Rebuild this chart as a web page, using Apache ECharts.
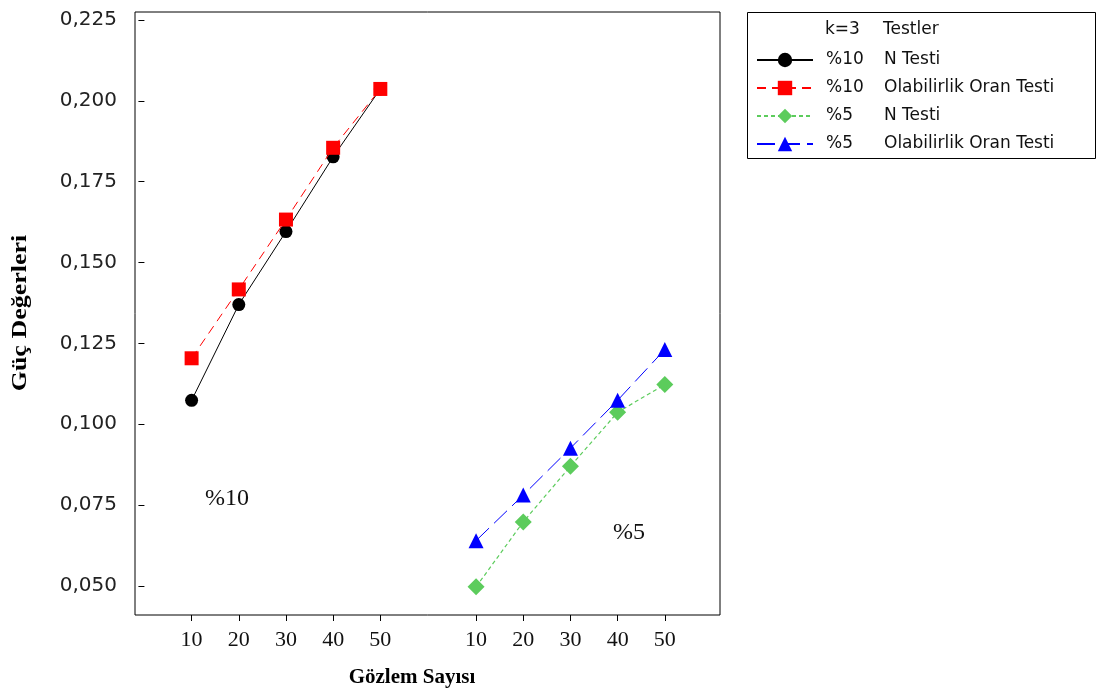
<!DOCTYPE html>
<html>
<head>
<meta charset="utf-8">
<script src="https://cdn.jsdelivr.net/npm/echarts@6/dist/echarts.min.js"></script>
<style>html,body{margin:0;padding:0;background:#fff}#c{width:1101px;height:694px}</style>
</head>
<body>
<div id="c"></div>
<script>
const categories = ['10', '20', '30', '40', '50'];
const yTicks = [0.050, 0.075, 0.100, 0.125, 0.150, 0.175, 0.200, 0.225];
const n10 = [0.1074, 0.1370, 0.1596, 0.1827, 0.2037];
const lr10 = [0.1204, 0.1417, 0.1633, 0.1855, 0.2037];
const n5 = [0.0497, 0.0698, 0.0870, 0.1037, 0.1123];
const lr5 = [0.0640, 0.0781, 0.0926, 0.1074, 0.1231];

// group offsets on the shared x scale
const g1 = categories.map((c, i) => i + 1);
const g2 = categories.map((c, i) => i + 7.03);
const xPos = g1.concat(g2);
const xLabelMap = {};
g1.forEach((p, i) => xLabelMap[p] = categories[i]);
g2.forEach((p, i) => xLabelMap[p] = categories[i]);

const pair = (xs, ys) => xs.map((x, i) => [x, ys[i]]);

const chart = echarts.init(document.getElementById('c'), null, {renderer: 'canvas'});
const sans = 'DejaVu Sans';
const rich = {
  s: {width: 8, fontFamily: sans, fontSize: 17, lineHeight: 18},
  a: {width: 58, fontFamily: sans, fontSize: 17, color: '#111', lineHeight: 18},
  b: {fontFamily: sans, fontSize: 17, color: '#111', lineHeight: 18}
};
chart.setOption({
  animation: false,
  grid: {left: 135, top: 12, right: 381, bottom: 79, show: true, borderColor: '#000', borderWidth: 1, backgroundColor: '#fff'},
  xAxis: {
    type: 'value', min: -0.2, max: 12.2,
    axisLine: {show: false},
    splitLine: {show: false},
    axisTick: {show: true, length: 6, customValues: xPos, lineStyle: {color: '#000'}},
    axisLabel: {customValues: xPos, formatter: v => xLabelMap[v] || '', fontFamily: 'Liberation Serif', fontSize: 22, color: '#111', margin: 14}
  },
  yAxis: {
    type: 'value', min: 0.041, max: 0.2275,
    axisLine: {show: false},
    splitLine: {show: false},
    axisTick: {show: true, length: 6, customValues: yTicks, lineStyle: {color: '#000'}},
    axisLabel: {customValues: yTicks, formatter: v => v.toFixed(3).replace('.', ','), fontFamily: sans, fontSize: 20, color: '#222', margin: 18}
  },
  legend: {
    orient: 'vertical', left: 751, top: 46, itemGap: 10, itemWidth: 56, itemHeight: 18,
    selectedMode: false,
    data: ['n10', 'lr10', 'n5', 'lr5'],
    formatter: name => ({
      n10: '{s|}{a|%10}{b|N Testi}',
      lr10: '{s|}{a|%10}{b|Olabilirlik Oran Testi}',
      n5: '{s|}{a|%5}{b|N Testi}',
      lr5: '{s|}{a|%5}{b|Olabilirlik Oran Testi}'
    })[name],
    textStyle: {rich: rich, lineHeight: 18}
  },
  graphic: [
    {type: 'rect', shape: {x: 747.5, y: 12.5, width: 348, height: 146}, style: {fill: 'none', stroke: '#000', lineWidth: 1}, z: 0},
    {type: 'text', x: 825, y: 30, style: {text: 'k=3', font: '17px DejaVu Sans', fill: '#111', verticalAlign: 'middle'}},
    {type: 'text', x: 883, y: 30, style: {text: 'Testler', font: '17px DejaVu Sans', fill: '#111', verticalAlign: 'middle'}},
    {type: 'text', x: 205, y: 499, style: {text: '%10', font: '24px Liberation Serif', fill: '#111', verticalAlign: 'middle'}},
    {type: 'text', x: 613, y: 533, style: {text: '%5', font: '24px Liberation Serif', fill: '#111', verticalAlign: 'middle'}},
    {type: 'text', x: 412, y: 678, style: {text: 'Gözlem Sayısı', font: 'bold 21px Liberation Serif', fill: '#000', align: 'center', verticalAlign: 'middle'}},
    {type: 'text', x: 21, y: 313, rotation: Math.PI / 2, scaleX: 1.3, style: {text: 'Güç Değerleri', font: 'bold 20px Liberation Serif', fill: '#000', align: 'center', verticalAlign: 'middle'}}
  ],
  series: [
    {name: 'n10', type: 'line', data: pair(g1, n10), symbol: 'circle', symbolSize: 13,
      itemStyle: {color: '#000'}, lineStyle: {color: '#000', width: 1, type: 'solid'}, z: 3},
    {name: 'lr10', type: 'line', data: pair(g1, lr10), symbol: 'rect', symbolSize: 14,
      itemStyle: {color: '#ff0000'}, lineStyle: {color: '#ff0000', width: 1, type: [9, 6]}, z: 4},
    {name: 'n5', type: 'line', data: pair(g2, n5), symbol: 'diamond', symbolSize: 17,
      itemStyle: {color: '#5ccc5c'}, lineStyle: {color: '#5ccc5c', width: 1.2, type: [4, 3]}, z: 3},
    {name: 'lr5', type: 'line', data: pair(g2, lr5), symbol: 'triangle', symbolSize: 15,
      itemStyle: {color: '#0000ff'}, lineStyle: {color: '#0000ff', width: 1, type: [18, 7]}, z: 4}
  ]
});
</script>
</body>
</html>
